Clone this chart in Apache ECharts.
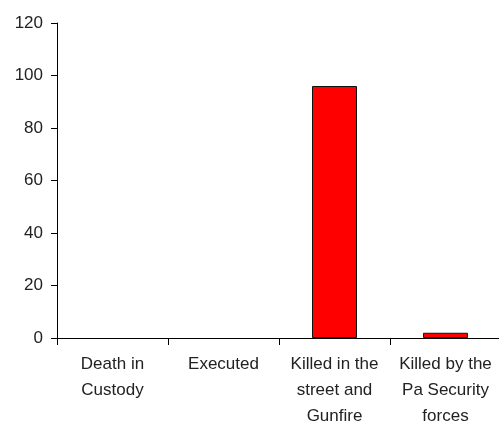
<!DOCTYPE html>
<html>
<head>
<meta charset="utf-8">
<script src="https://cdn.jsdelivr.net/npm/echarts@6/dist/echarts.min.js"></script>
<style>
html,body{margin:0;padding:0;background:#fff;}
#chart{width:499px;height:422px;}
</style>
</head>
<body>
<div id="chart"></div>
<script>
var categories = ["Death in\nCustody", "Executed", "Killed in the\nstreet and\nGunfire", "Killed by the\nPa Security\nforces"];
var values = [0, 0, 96, 2];
var yTicks = {min: 0, max: 120, interval: 20};

var barData = values.map(function (v) {
  return v === 0 ? {value: v, itemStyle: {borderWidth: 0, opacity: 0}} : v;
});

var chart = echarts.init(document.getElementById('chart'), null, {renderer: 'canvas'});
chart.setOption({
  animation: false,
  backgroundColor: '#ffffff',
  grid: {left: 57, top: 23, right: -2, bottom: 84, containLabel: false, outerBoundsMode: 'none'},
  xAxis: {
    type: 'category',
    data: categories,
    axisLine: {lineStyle: {color: '#000', width: 1}},
    axisTick: {show: true, length: 7, alignWithLabel: false, lineStyle: {color: '#000'}},
    axisLabel: {interval: 0, margin: 13, color: '#222', fontFamily: 'Liberation Sans', fontSize: 17, lineHeight: 26, align: 'center'}
  },
  yAxis: {
    type: 'value',
    min: yTicks.min, max: yTicks.max, interval: yTicks.interval,
    splitLine: {show: false},
    axisLine: {show: true, lineStyle: {color: '#000', width: 1}},
    axisTick: {show: true, length: 6, lineStyle: {color: '#000'}},
    axisLabel: {margin: 14, color: '#222', fontFamily: 'Liberation Sans', fontSize: 17}
  },
  series: [{
    type: 'bar',
    data: barData,
    barWidth: 45,
    itemStyle: {color: '#ff0000', borderColor: '#111', borderWidth: 1}
  }]
});
</script>
</body>
</html>
